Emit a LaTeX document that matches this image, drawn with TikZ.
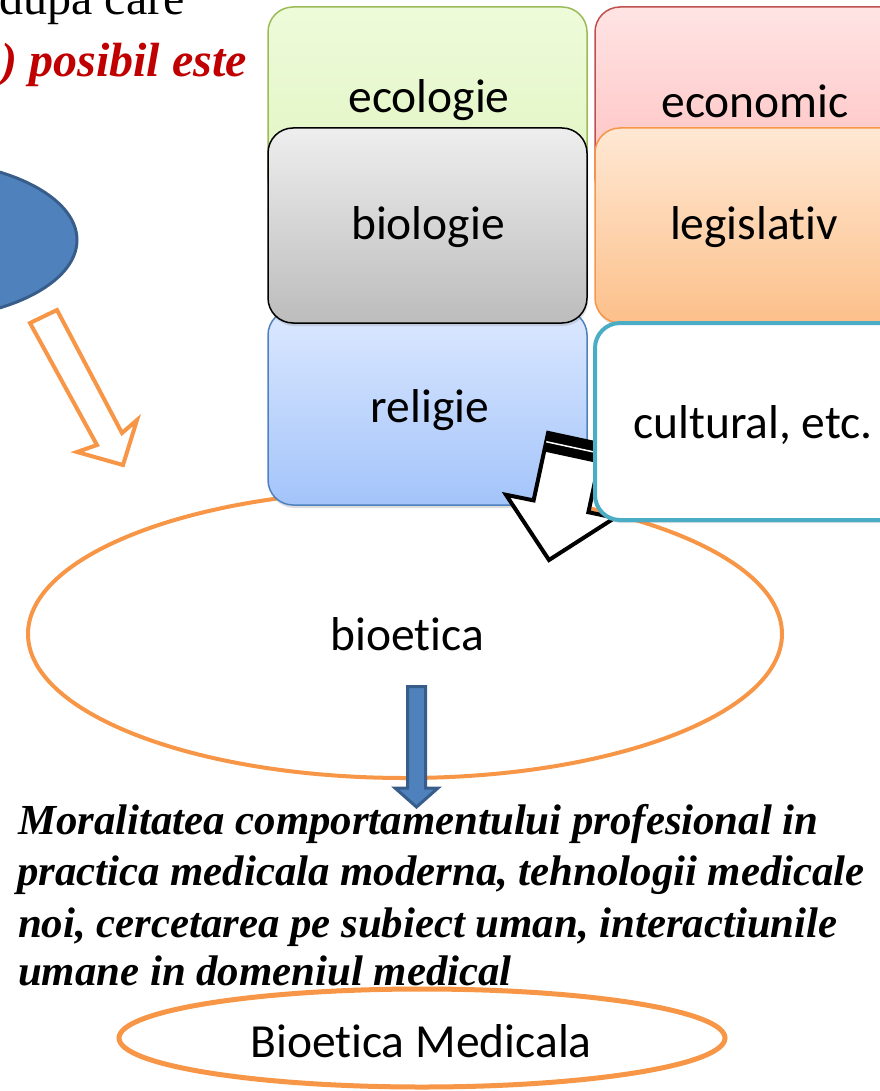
\documentclass[tikz,border=0pt]{standalone}
\usepackage{fontspec}
\newfontfamily\carl[Ligatures={NoCommon}]{Carlito}
\newfontfamily\tnr{Liberation Serif}
\usetikzlibrary{shapes.geometric,shadows}
\definecolor{orgL}{HTML}{F79646}
\definecolor{blueM}{HTML}{4F81BD}
\definecolor{blueD}{HTML}{385D8A}
\definecolor{cyanB}{HTML}{4BACC6}
\definecolor{redT}{HTML}{C00000}
\definecolor{greenB}{HTML}{9BBB59}
\definecolor{redB}{HTML}{C0504D}
\begin{document}
\begin{tikzpicture}[x=1pt,y=-1pt,
  box/.style={draw, rounded corners=25pt, minimum width=319pt, minimum height=195pt,
    inner sep=0pt, line width=1.5pt,
    drop shadow={shadow xshift=1pt, shadow yshift=-3pt, opacity=0.25}},
  lbl/.style={anchor=base, inner sep=0pt, font=\carl\fontsize{47.5}{56}\selectfont},
  para/.style={anchor=base west, inner sep=0pt, font=\tnr\bfseries\itshape\fontsize{42.8}{50}\selectfont},
  ell/.style={ellipse, draw=orgL, inner sep=0pt}]
\useasboundingbox (0,0) rectangle (879,1091);

% top-left text
\node[anchor=base east, inner sep=0pt, font=\tnr\fontsize{48}{56}\selectfont] (tdupa) at (185,15) {dupa care};
\node[anchor=base east, inner sep=0pt, text=redT, font=\tnr\bfseries\itshape\fontsize{48}{56}\selectfont] (tpos) at (247,77) {) posibil este};

% left blue ellipse
\node[ellipse, draw=blueD, fill=blueM, line width=3pt, minimum width=328pt, minimum height=160pt, inner sep=0pt] (lell) at (-87,240) {};

% orange hollow arrow
\draw[orgL, line width=4pt, fill=white, line join=miter]
  (57,310)--(122,433)--(137,420)--(123,465)--(77,452)--(97,445)--(30,323)--cycle;

% big ellipse
\node[ell, line width=4pt, minimum width=754pt, minimum height=288pt] (bell) at (405,634) {};
\node[lbl] (tbio) at (407,650) {bioetica};

% left column boxes
\node[box, draw=greenB, top color={rgb,255:red,238;green,251;blue,218}, bottom color={rgb,255:red,224;green,244;blue,192}] (eco) at (427.5,104.5) {};
\node[lbl] (teco) at (429,113) {ecologie};
\node[box, draw=blueM, top color={rgb,255:red,220;green,232;blue,255}, bottom color={rgb,255:red,163;green,196;blue,250}] (rel) at (427.5,407.5) {};
\node[lbl] (trel) at (430,422) {religie};
\node[box, draw=black, top color={rgb,255:red,238;green,238;blue,238}, bottom color={rgb,255:red,188;green,188;blue,188}] (bio) at (427.5,225.5) {};
\node[lbl] (tbiol) at (428,240) {biologie};

% right column boxes
\node[box, draw=redB, top color={rgb,255:red,255;green,228;blue,228}, bottom color={rgb,255:red,255;green,188;blue,188}] (econ) at (754.5,104.5) {};
\node[lbl] (tecon) at (755,118) {economic};
\node[box, draw=orgL, top color={rgb,255:red,255;green,232;blue,212}, bottom color={rgb,255:red,252;green,192;blue,138}] (leg) at (754.5,225.5) {};
\node[lbl] (tleg) at (754,240) {legislativ};

% black hollow arrow
\draw[line width=4pt, fill=white, line join=miter]
  (548.1,432.9)--(533.6,500.4)--(506,494.8)--(549,560)--(614.8,517.8)--(588.4,512.2)--(602.9,444.7)--cycle;
\fill (548.1,432.9)--(602.9,444.7)--(598.9,463.3)--(544.1,451.5)--cycle;
\draw[white, line width=1.5pt] (546.2,441.7)--(601,453.5);

% cultural box
\node[box, draw=cyanB, fill=white, line width=4pt, minimum height=197pt] (cult) at (754.5,421.5) {};
\node[lbl] (tcult) at (753,438) {cultural, etc.};

% blue down arrow
\draw[blueD, fill=blueM, line width=3pt, line join=miter]
  (407.5,686.5)--(425.5,686.5)--(425.5,788)--(438,788)--(416.5,807)--(395,788)--(407.5,788)--cycle;

% paragraph
\node[para] (p1) at (18,834) {Moralitatea comportamentului profesional in};
\node[para] (p2) at (17,885) {practica medicala moderna, tehnologii medicale};
\node[para] (p3) at (18,937) {noi, cercetarea pe subiect uman, interactiunile};
\node[para] (p4) at (18,985) {umane in domeniul medical};

% bottom ellipse
\node[ell, line width=5pt, minimum width=606pt, minimum height=98pt] (mell) at (422,1038) {};
\node[lbl] (tmed) at (421,1057) {Bioetica Medicala};
\end{tikzpicture}
\end{document}
